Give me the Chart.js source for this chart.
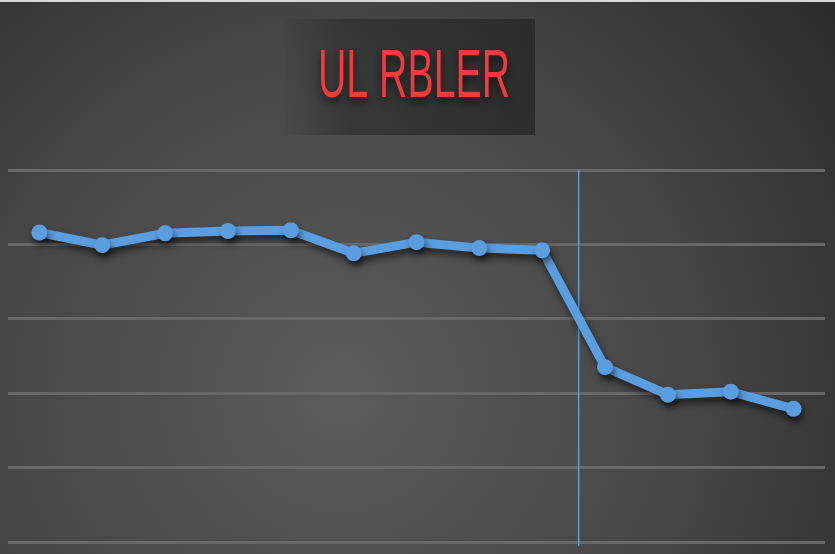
<!DOCTYPE html>
<html>
<head>
<meta charset="utf-8">
<script src="https://cdn.jsdelivr.net/npm/chart.js@4"></script>
<style>
  html, body { margin: 0; padding: 0; background: #3a3a3a; }
  canvas { display: block; }
</style>
</head>
<body>
<canvas id="graph" width="835" height="554"></canvas>
<script>
// donnees
var labels = ['1', '2', '3', '4', '5', '6', '7', '8', '9', '10', '11', '12', '13'];
var rbler = [4.16, 3.99, 4.15, 4.18, 4.19, 3.88, 4.03, 3.95, 3.92, 2.35, 1.98, 2.02, 1.79];
var yTicks = [0, 1, 2, 3, 4, 5];
var markerAt = 8.58; // position du trait vertical (en categories)
var titre = 'UL RBLER';

// fond gris degrade + cartouche du titre
var fondPlugin = {
    id: 'fond',
    beforeDraw: function(chart) {
        var ctx = chart.ctx;
        ctx.save();
        var g = ctx.createRadialGradient(340, 390, 20, 340, 390, 620);
        g.addColorStop(0, '#5a5a5a');
        g.addColorStop(0.55, '#464646');
        g.addColorStop(1, '#2c2c2c');
        ctx.fillStyle = g;
        ctx.fillRect(0, 0, chart.width, chart.height);
        // liseré clair en haut
        ctx.fillStyle = '#d8d8d8';
        ctx.fillRect(0, 0, chart.width, 2);
        // cartouche
        var bg = ctx.createLinearGradient(285, 0, 535, 0);
        bg.addColorStop(0, 'rgba(40,40,40,0.05)');
        bg.addColorStop(0.25, 'rgba(40,40,40,0.55)');
        bg.addColorStop(1, 'rgba(40,40,40,0.85)');
        ctx.fillStyle = bg;
        ctx.fillRect(285, 19, 250, 116);
        // titre etire verticalement
        ctx.font = '68px "Liberation Sans"';
        ctx.textBaseline = 'alphabetic';
        var w = ctx.measureText(titre).width;
        var sx = 192 / w;
        ctx.translate(318, 97);
        ctx.scale(sx, 1);
        ctx.shadowColor = 'rgba(0,0,0,0.6)';
        ctx.shadowBlur = 8;
        ctx.shadowOffsetY = 5;
        ctx.fillStyle = '#f23a3c';
        ctx.fillText(titre, 0, 0);
        ctx.restore();
    },
    beforeDatasetsDraw: function(chart) {
        var ctx = chart.ctx;
        var x = chart.scales.x;
        var i0 = Math.floor(markerAt);
        var px = x.getPixelForValue(i0) + (markerAt - i0) * (x.getPixelForValue(i0 + 1) - x.getPixelForValue(i0));
        ctx.save();
        ctx.strokeStyle = '#5b9ee0';
        ctx.lineWidth = 1.5;
        ctx.beginPath();
        ctx.moveTo(px, chart.chartArea.top);
        ctx.lineTo(px, chart.chartArea.bottom + 4);
        ctx.stroke();
        ctx.restore();
        // ombre sous la courbe
        ctx.save();
        ctx.shadowColor = 'rgba(0,0,0,0.55)';
        ctx.shadowBlur = 7;
        ctx.shadowOffsetX = 2;
        ctx.shadowOffsetY = 5;
    },
    afterDatasetsDraw: function(chart) {
        chart.ctx.restore();
    }
};

var ctx = document.getElementById('graph').getContext('2d');
window.myChart = new Chart(ctx, {
    type: 'line',
    data: {
        labels: labels,
        datasets: [{
            data: rbler,
            borderColor: '#5b9ee0',
            backgroundColor: '#5b9ee0',
            borderWidth: 9,
            pointRadius: 8,
            pointBorderWidth: 0,
            pointBackgroundColor: '#5b9ee0',
            tension: 0
        }]
    },
    options: {
        responsive: false,
        animation: false,
        layout: { padding: { left: 8, right: 10, top: 170, bottom: 4 } },
        plugins: {
            legend: { display: false },
            title: { display: false },
            tooltip: { enabled: false }
        },
        scales: {
            x: {
                offset: true,
                grid: { display: false },
                border: { display: false },
                ticks: { display: false }
            },
            y: {
                min: yTicks[0],
                max: yTicks[yTicks.length - 1],
                afterBuildTicks: function(axis) {
                    axis.ticks = yTicks.map(function(v) { return { value: v }; });
                },
                grid: { color: '#686868', lineWidth: 3, drawTicks: false },
                border: { display: false },
                ticks: { display: false }
            }
        }
    },
    plugins: [fondPlugin]
});
</script>
</body>
</html>
